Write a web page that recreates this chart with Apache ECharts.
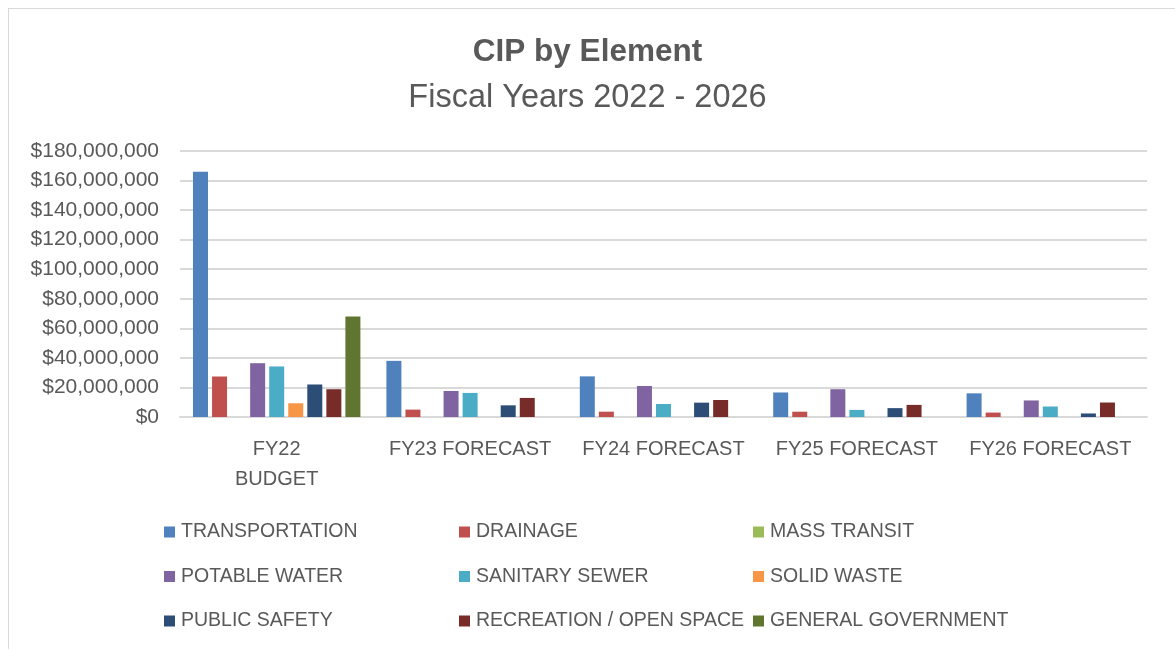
<!DOCTYPE html>
<html>
<head>
<meta charset="utf-8">
<script src="https://cdn.jsdelivr.net/npm/echarts@6/dist/echarts.min.js"></script>
<style>
  html, body { margin: 0; padding: 0; background: #fff; }
  #frame { position: absolute; left: 8px; top: 8px; width: 1175px; height: 640px; border-left: 1px solid #d9d9d9; border-top: 1px solid #d9d9d9; }
  #main { width: 1175px; height: 650px; }
</style>
</head>
<body>
<div id="frame"></div>
<div id="main"></div>
<script>
// categories (fiscal years)
const categories = ['FY22\nBUDGET', 'FY23 FORECAST', 'FY24 FORECAST', 'FY25 FORECAST', 'FY26 FORECAST'];

// values per element, in dollars
const transportation = [166000000, 38000000, 27500000, 16600000, 16000000];
const drainage = [27400000, 5000000, 3600000, 3600000, 3000000];
const massTransit = [0, 0, 0, 0, 0];
const potableWater = [36400000, 17600000, 21000000, 18800000, 11200000];
const sanitarySewer = [34200000, 16300000, 8800000, 4800000, 7100000];
const solidWaste = [9300000, 0, 0, 0, 0];
const publicSafety = [22000000, 7900000, 9700000, 6000000, 2400000];
const recreation = [18800000, 12900000, 11500000, 8200000, 9800000];
const generalGov = [68000000, 0, 0, 0, 0];

const seriesDefs = [
  { name: 'TRANSPORTATION', data: transportation, color: '#4F81BD' },
  { name: 'DRAINAGE', data: drainage, color: '#C0504D' },
  { name: 'MASS TRANSIT', data: massTransit, color: '#9BBB59' },
  { name: 'POTABLE WATER', data: potableWater, color: '#8064A2' },
  { name: 'SANITARY SEWER', data: sanitarySewer, color: '#4BACC6' },
  { name: 'SOLID WASTE', data: solidWaste, color: '#F79646' },
  { name: 'PUBLIC SAFETY', data: publicSafety, color: '#2C4D75' },
  { name: 'RECREATION / OPEN SPACE', data: recreation, color: '#772C2A' },
  { name: 'GENERAL GOVERNMENT', data: generalGov, color: '#5F7530' }
];

const font = '"Liberation Sans", Arial, sans-serif';
const txt = '#595959';

// legend is laid out in 3 columns, row-major like the original
function legendCol(names, left) {
  return {
    orient: 'vertical',
    left: left,
    top: 517,
    itemGap: 24.5,
    itemWidth: 11,
    itemHeight: 11,
    icon: 'rect',
    data: names,
    textStyle: { color: txt, fontSize: 19.5, fontFamily: font, padding: [0, 0, 0, 1] }
  };
}

const chart = echarts.init(document.getElementById('main'));
chart.setOption({
  animation: false,
  title: [
    {
      text: 'CIP by Element',
      left: 'center',
      top: 31,
      textStyle: { fontSize: 31.5, fontWeight: 'bold', color: txt, fontFamily: font }
    },
    {
      text: 'Fiscal Years 2022 - 2026',
      left: 'center',
      top: 77,
      textStyle: { fontSize: 32.5, fontWeight: 'normal', color: txt, fontFamily: font }
    }
  ],
  legend: [
    legendCol(['TRANSPORTATION', 'POTABLE WATER', 'PUBLIC SAFETY'], 159),
    legendCol(['DRAINAGE', 'SANITARY SEWER', 'RECREATION / OPEN SPACE'], 454),
    legendCol(['MASS TRANSIT', 'SOLID WASTE', 'GENERAL GOVERNMENT'], 748)
  ],
  grid: { left: 180, right: 28, top: 151, bottom: 233 },
  xAxis: {
    type: 'category',
    data: categories,
    axisLine: { lineStyle: { color: '#d9d9d9', width: 2 } },
    axisTick: { show: false },
    axisLabel: { color: txt, fontSize: 20, fontFamily: font, margin: 17, lineHeight: 30, interval: 0 }
  },
  yAxis: {
    type: 'value',
    min: 0,
    max: 180000000,
    interval: 20000000,
    axisLine: { show: false },
    axisTick: { show: false },
    splitLine: { lineStyle: { color: '#d9d9d9', width: 2 } },
    axisLabel: {
      color: txt,
      fontSize: 21,
      fontFamily: font,
      margin: 21,
      formatter: v => '$' + v.toLocaleString('en-US')
    }
  },
  series: seriesDefs.map(s => ({
    name: s.name,
    type: 'bar',
    data: s.data,
    barWidth: 15,
    barGap: '27%',
    itemStyle: { color: s.color }
  }))
});
</script>
</body>
</html>
